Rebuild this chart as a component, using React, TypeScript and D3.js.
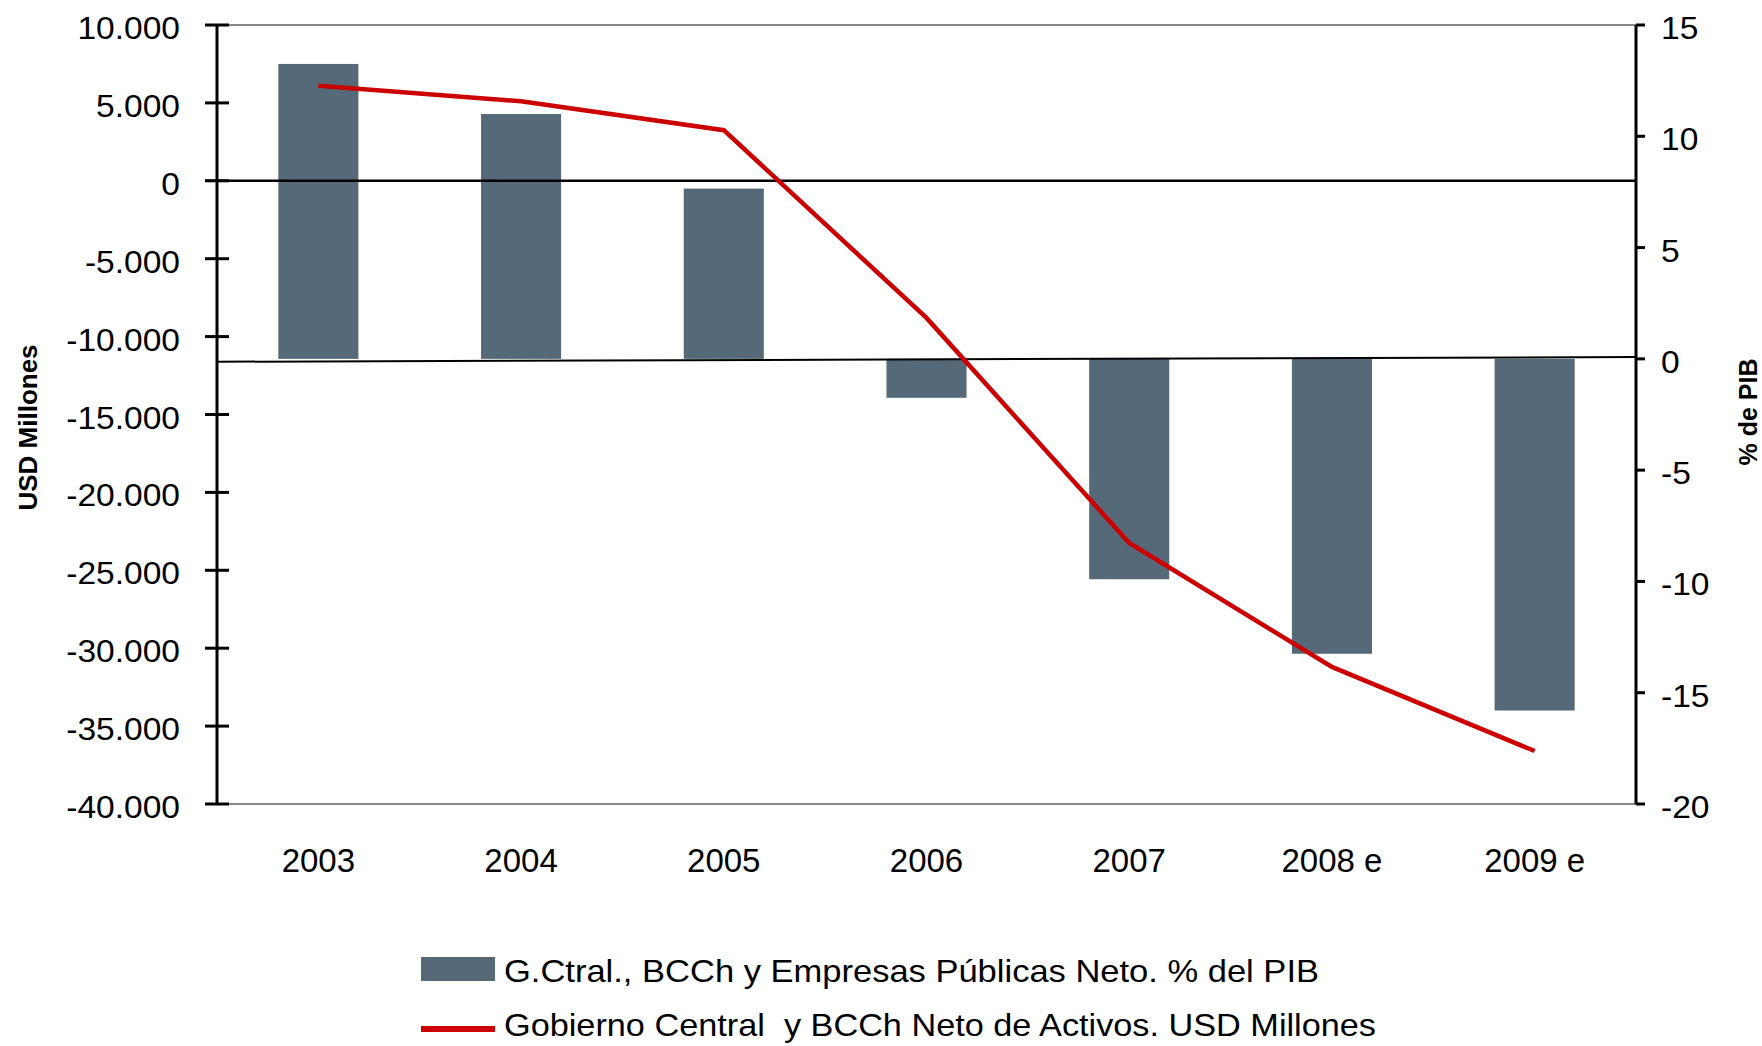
import React from "react";
import * as d3 from "d3";

// Years on the category axis
const years = ["2003", "2004", "2005", "2006", "2007", "2008 e", "2009 e"];
// G.Ctral., BCCh y Empresas Públicas Neto (% del PIB) — bars, right axis
const pctPIB = [13.25, 11.0, 7.65, -1.75, -9.9, -13.25, -15.8];
// Gobierno Central y BCCh Neto de Activos (USD Millones) — line, left axis
const usdMillones = [6100, 5100, 3250, -8800, -23250, -31200, -36600];

const leftTicks = [10000, 5000, 0, -5000, -10000, -15000, -20000, -25000, -30000, -35000, -40000];
const rightTicks = [15, 10, 5, 0, -5, -10, -15, -20];
// ends of the bar baseline (% del PIB), drawn slightly tilted
const barBaseEnds = [-0.13, 0.08];

const W = 1762;
const H = 1046;
const FONT = "'Liberation Sans', Arial, Helvetica, sans-serif";
const BAR = "#566978";
const RED = "#cc0000";

const fmt = (v: number) => {
  const s = Math.abs(v).toString().replace(/\B(?=(\d{3})+(?!\d))/g, ".");
  return v < 0 ? "-" + s : s;
};

export default function App() {
  const left = 217;
  const right = 1636;
  const top = 25;
  const bottom = 804;

  const x = d3.scaleBand<string>().domain(years).range([left, right]).paddingInner(0.605).paddingOuter(0.3025);
  const yL = d3.scaleLinear().domain([-40000, 10000]).range([bottom, top]);
  const yR = d3.scaleLinear().domain([-20, 15]).range([bottom, top]);

  const line = d3
    .line<number>()
    .x((_, i) => (x(years[i]) as number) + x.bandwidth() / 2)
    .y((d) => yL(d));

  return (
    <svg width={W} height={H} style={{ position: "absolute", left: 0, top: 0, background: "#fff" }} fontFamily={FONT}>
      {/* frame lines */}
      <line x1={left} x2={right} y1={yL(10000)} y2={yL(10000)} stroke="#888" strokeWidth={2} />
      <line x1={left} x2={right} y1={yL(-40000)} y2={yL(-40000)} stroke="#888" strokeWidth={2} />

      {/* bars */}
      {pctPIB.map((v, i) => (
        <rect
          key={years[i]}
          x={x(years[i]) as number}
          width={x.bandwidth()}
          y={Math.min(yR(v), yR(0))}
          height={Math.abs(yR(v) - yR(0))}
          fill={BAR}
        />
      ))}

      {/* bar baseline */}
      <line x1={left - 1} x2={right} y1={yR(barBaseEnds[0])} y2={yR(barBaseEnds[1])} stroke="#000" strokeWidth={2} />
      {/* zero line of left axis */}
      <line x1={205} x2={right} y1={yL(0)} y2={yL(0)} stroke="#000" strokeWidth={2.5} />

      {/* USD line */}
      <path d={line(usdMillones) as string} fill="none" stroke={RED} strokeWidth={4.5} strokeLinejoin="miter" />

      {/* left axis */}
      <line x1={left} x2={left} y1={top} y2={bottom} stroke="#000" strokeWidth={3} />
      {leftTicks.map((t) => (
        <g key={t}>
          <line x1={205} x2={229} y1={yL(t)} y2={yL(t)} stroke="#000" strokeWidth={3} />
          <text transform={`translate(180,${yL(t) + 14}) scale(1.1,1)`} textAnchor="end" fontSize={30.5} fill="#000">
            {fmt(t)}
          </text>
        </g>
      ))}

      {/* right axis */}
      <line x1={right} x2={right} y1={top} y2={bottom} stroke="#000" strokeWidth={3} />
      {rightTicks.map((t) => (
        <g key={t}>
          <line x1={right} x2={1645} y1={yR(t)} y2={yR(t)} stroke="#000" strokeWidth={3} />
          <text transform={`translate(1661,${yR(t) + 14}) scale(1.1,1)`} textAnchor="start" fontSize={30.5} fill="#000">
            {t}
          </text>
        </g>
      ))}

      {/* category labels */}
      {years.map((y) => (
        <text key={y} x={(x(y) as number) + x.bandwidth() / 2} y={872} textAnchor="middle" fontSize={33} fill="#000">
          {y}
        </text>
      ))}

      {/* axis titles */}
      <text transform="translate(36.5,427.5) rotate(-90)" textAnchor="middle" fontSize={26} fontWeight="bold" fill="#000">
        USD Millones
      </text>
      <text transform="translate(1756.5,412) rotate(-90)" textAnchor="middle" fontSize={25} fontWeight="bold" fill="#000">
        % de PIB
      </text>

      {/* legend */}
      <rect x={421} y={957} width={74} height={24} fill={BAR} />
      <text x={504} y={981.5} fontSize={31.5} textLength={815} lengthAdjust="spacingAndGlyphs" fill="#000">
        G.Ctral., BCCh y Empresas Públicas Neto. % del PIB
      </text>
      <rect x={421} y={1026} width={74} height={6} fill={RED} />
      <text
        x={504}
        y={1036}
        fontSize={31.5}
        textLength={872}
        lengthAdjust="spacingAndGlyphs"
        fill="#000"
        xmlSpace="preserve"
        style={{ whiteSpace: "pre" }}
      >
        {"Gobierno Central  y BCCh Neto de Activos. USD Millones"}
      </text>
    </svg>
  );
}
